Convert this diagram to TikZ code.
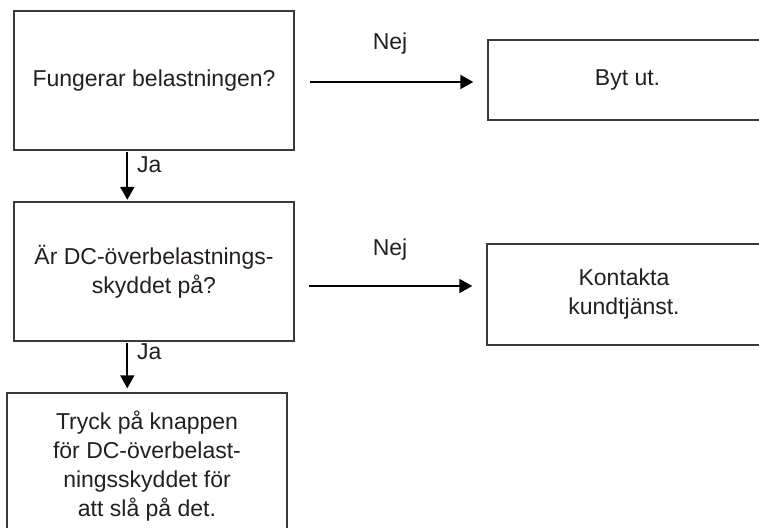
\documentclass[tikz,border=0pt]{standalone}
\usepackage{fontspec}
\setmainfont{Liberation Sans}
\usetikzlibrary{arrows.meta,calc}
\definecolor{txt}{HTML}{231F20}
\definecolor{frame}{HTML}{3A3A3A}
\begin{document}
\begin{tikzpicture}[x=1pt,y=-1pt,
 box/.style={draw=frame,line width=1.4pt,rectangle,inner sep=0pt,align=center,font=\fontsize{23}{29}\selectfont,text=txt},
 arr/.style={draw=black,line width=2pt,-{Triangle[width=14pt,length=13pt]}},
 lbl/.style={font=\fontsize{23}{29}\selectfont,text=txt,inner sep=0pt}]
\useasboundingbox (0,0) rectangle (759,527);
\clip (0,0) rectangle (759,527);
\node[box,minimum width=280pt,minimum height=139pt] (A) at (154,80.5) {Fungerar belastningen?};
\node[box,minimum width=280pt,minimum height=139pt] (B) at (154,271.5) {Är DC-överbelastnings-\\skyddet på?};
\node[box,minimum width=280pt,minimum height=146pt] (C) at (147,466) {Tryck på knappen\\för DC-överbelast-\\ningsskyddet för\\att slå på det.};
\node[box,minimum width=279pt,minimum height=80pt] (D) at (627.5,80) {Byt ut.};
\node[box,minimum width=274pt,minimum height=101pt] (E) at (624,294.5) {Kontakta\\kundtjänst.};
\draw[arr,shorten <=1pt,shorten >=1.5pt] ([xshift=114pt]A.south west) -- ([xshift=114pt]A.south west |- B.north);
\draw[arr,shorten <=1pt,shorten >=4pt] ([xshift=114pt]B.south west) -- ([xshift=114pt]B.south west |- C.north);
\draw[arr,shorten <=15pt,shorten >=14pt] ([yshift=-1.5pt]A.east) -- ([yshift=-1.5pt]A.east -| D.west);
\draw[arr,shorten <=14pt,shorten >=14pt] ([yshift=-14.5pt]B.east) -- ([yshift=-14.5pt]B.east -| E.west);
\node[lbl] (nej1) at (390,44) {Nej};
\node[lbl] (nej2) at (390,250) {Nej};
\node[lbl,anchor=west] (ja1) at (137,165) {Ja};
\node[lbl,anchor=west] (ja2) at (137,351.5) {Ja};
\end{tikzpicture}
\end{document}
